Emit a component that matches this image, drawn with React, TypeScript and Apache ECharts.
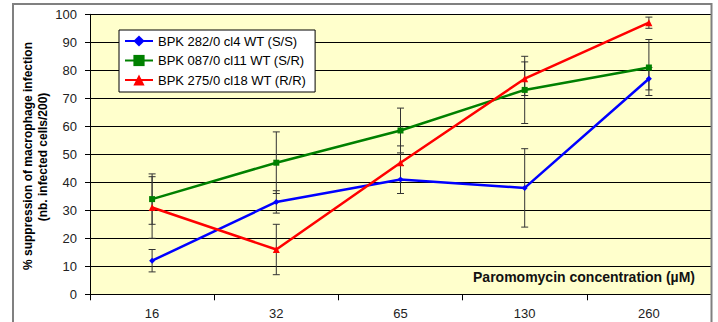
import React, { useEffect, useRef } from "react";
import * as echarts from "echarts";

const categories = ["16", "32", "65", "130", "260"];
const seriesNames = [
  "BPK 282/0 cl4 WT (S/S)",
  "BPK 087/0 cl11 WT (S/R)",
  "BPK 275/0 cl18 WT (R/R)",
];
const blueValues = [12, 33, 41, 38, 77];
const greenValues = [34, 47, 58.5, 73, 81];
const redValues = [31, 16, 47, 77, 97];
const blueErrors = [4, 4, 5, 14, 4];
const greenErrors = [9, 11, 8, 12, 10];
const redErrors = [11, 9, 6, 6, 2];
const yTicks = { min: 0, max: 100, interval: 10 };

const FONT = "'Liberation Sans', Arial, sans-serif";

function errData(vals: number[], errs: number[]) {
  return vals.map((v, i) => [i, v - errs[i], v + errs[i]]);
}

const renderErr = (params: any, api: any) => {
  const x = api.value(0);
  const lo = api.coord([x, api.value(1)]);
  const hi = api.coord([x, api.value(2)]);
  const hw = 3.5;
  const st = { stroke: "#333333", lineWidth: 1 };
  return {
    type: "group",
    children: [
      { type: "line", shape: { x1: lo[0], y1: lo[1], x2: hi[0], y2: hi[1] }, style: st },
      { type: "line", shape: { x1: lo[0] - hw, y1: lo[1], x2: lo[0] + hw, y2: lo[1] }, style: st },
      { type: "line", shape: { x1: hi[0] - hw, y1: hi[1], x2: hi[0] + hw, y2: hi[1] }, style: st },
    ],
  };
};

export default function App() {
  const ref = useRef<HTMLDivElement>(null);
  useEffect(() => {
    if (!ref.current) return;
    const chart = echarts.init(ref.current, undefined, { renderer: "svg" });
    const colors = ["#0000FF", "#008000", "#FF0000"];
    const symbols = ["diamond", "rect", "triangle"];
    const sizes = [6, 6, 7];
    const vals = [blueValues, greenValues, redValues];
    const errs = [blueErrors, greenErrors, redErrors];
    const lineSeries = vals.map((v, i) => ({
      type: "line",
      name: seriesNames[i],
      data: v,
      symbol: symbols[i],
      symbolSize: sizes[i],
      showSymbol: true,
      itemStyle: { color: colors[i] },
      lineStyle: { color: colors[i], width: 2.5 },
      z: 3,
    }));
    const errSeries = vals.map((v, i) => ({
      type: "custom",
      name: "err" + i,
      renderItem: renderErr,
      data: errData(v, errs[i]),
      encode: { x: 0, y: [1, 2] },
      z: 2,
      silent: true,
    }));
    chart.setOption({
      animation: false,
      backgroundColor: "#FFFFFF",
      textStyle: { fontFamily: FONT },
      grid: {
        left: 90,
        right: 7,
        top: 14.3,
        bottom: 27.7,
        show: true,
        backgroundColor: "#FFFFCC",
        borderWidth: 0,
      },
      legend: {
        data: seriesNames,
        left: 119,
        top: 30,
        orient: "vertical",
        itemWidth: 28,
        itemHeight: 14,
        itemGap: 5.5,
        padding: [4, 9, 5, 5],
        backgroundColor: "#FFFFFF",
        borderColor: "#000000",
        borderWidth: 1,
        textStyle: { fontFamily: FONT, fontSize: 13, color: "#000000", lineHeight: 14 },
      },
      xAxis: {
        type: "category",
        data: categories,
        boundaryGap: true,
        axisLine: { show: true, lineStyle: { color: "#000000", width: 1 } },
        axisTick: { show: true, length: 6, lineStyle: { color: "#000000" } },
        axisLabel: { fontFamily: FONT, fontSize: 13, color: "#222222", margin: 13 },
        splitLine: { show: false },
      },
      yAxis: {
        type: "value",
        min: yTicks.min,
        max: yTicks.max,
        interval: yTicks.interval,
        axisLine: { show: true, lineStyle: { color: "#000000", width: 1 } },
        axisTick: { show: true, length: 5, lineStyle: { color: "#000000" } },
        axisLabel: { fontFamily: FONT, fontSize: 13, color: "#222222", margin: 13 },
        splitLine: { show: true, lineStyle: { color: "#000000", width: 1 } },
      },
      graphic: [
        {
          type: "polyline",
          shape: { points: [[13, 322], [13, 4], [711.5, 4], [711.5, 322]] },
          style: { stroke: "#808080", lineWidth: 2, fill: "none" },
          z: 10,
        },
        {
          type: "text",
          x: 28,
          y: 156,
          rotation: Math.PI / 2,
          style: {
            text: "% suppression of macrophage infection",
            font: "bold 12px " + FONT,
            fill: "#000000",
            align: "center",
            verticalAlign: "middle",
          },
        },
        {
          type: "text",
          x: 43,
          y: 157,
          rotation: Math.PI / 2,
          style: {
            text: "(nb. infected cells/200)",
            font: "bold 12px " + FONT,
            fill: "#000000",
            align: "center",
            verticalAlign: "middle",
          },
        },
        {
          type: "text",
          x: 695,
          y: 277,
          style: {
            text: "Paromomycin concentration (\u00b5M)",
            font: "bold 14px " + FONT,
            fill: "#111111",
            align: "right",
            verticalAlign: "middle",
          },
          z: 5,
        },
      ],
      series: [...errSeries, ...lineSeries],
    });
    return () => chart.dispose();
  }, []);
  return (
    <div
      ref={ref}
      style={{ position: "absolute", left: 0, top: 0, width: 718, height: 322 }}
    />
  );
}
